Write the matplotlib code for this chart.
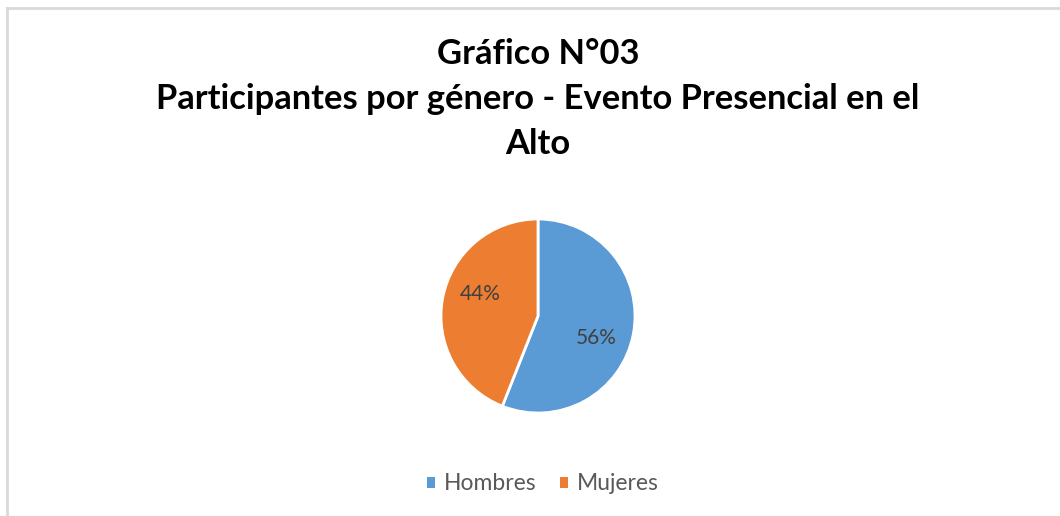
import matplotlib
matplotlib.use("Agg")
import matplotlib.pyplot as plt
import numpy as np
from matplotlib.lines import Line2D
from matplotlib.patches import Patch

# datos
generos = ["Hombres", "Mujeres"]
porcentajes = [56, 44]
colores = ["#5B9BD5", "#ED7D31"]
titulo = "Gráfico N°03\nParticipantes por género - Evento Presencial en el\nAlto"

W, H = 1060, 516
fig = plt.figure(figsize=(W / 100, H / 100), dpi=100)
fig.patch.set_facecolor("white")

# marco gris (solo arriba e izquierda se ve)
fig.add_artist(Line2D([7 / W, 7 / W], [0, 1 - 8 / H], color="#d9d9d9", lw=2))
fig.add_artist(Line2D([7 / W, 1], [1 - 8 / H, 1 - 8 / H], color="#d9d9d9", lw=2))

fig.text(538 / W, 1 - 99 / H, titulo, ha="center", va="center",
         fontsize=24.8, fontweight="bold", family="Lato", linespacing=1.5,
         color="#000000")

r = 97
cx, cy = 538, 316
ax = fig.add_axes([(cx - r) / W, 1 - (cy + r) / H, 2 * r / W, 2 * r / H])
wedges, textos, pcts = ax.pie(porcentajes, colors=colores, startangle=90, counterclock=False,
                              autopct="%d%%", pctdistance=0.64,
                              wedgeprops=dict(edgecolor="white", linewidth=2),
                              textprops=dict(color="#404040", fontsize=15, family="Lato"))
# etiquetas un poco giradas como en el original
giro = np.deg2rad(-10)
for t in pcts:
    x, y = t.get_position()
    t.set_position((x * np.cos(giro) - y * np.sin(giro), x * np.sin(giro) + y * np.cos(giro)))
ax.set_xlim(-1, 1)
ax.set_ylim(-1, 1)
ax.set_aspect("equal")

handles = [Patch(facecolor=c, edgecolor="none") for c in colores]
leg = fig.legend(handles, generos, loc="center", bbox_to_anchor=(543 / W, 1 - 484 / H),
                 ncol=2, frameon=False, handlelength=0.35, handleheight=0.35,
                 handletextpad=0.4, columnspacing=1.0,
                 prop=dict(family="Lato", size=16.5))
for t in leg.get_texts():
    t.set_color("#595959")

fig.savefig("out.png", dpi=100)
